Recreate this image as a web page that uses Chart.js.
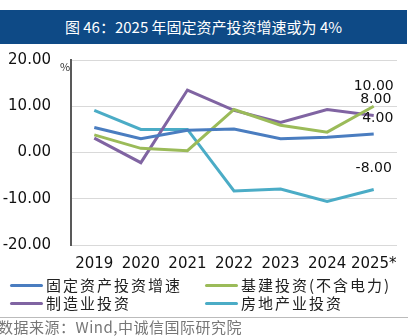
<!DOCTYPE html>
<html><head><meta charset="utf-8">
<script src="https://cdn.jsdelivr.net/npm/chart.js@4/dist/chart.umd.min.js"></script>
<style>
html,body{margin:0;padding:0;background:#fff;width:418px;height:336px;overflow:hidden;font-family:"Noto Sans CJK SC","Noto Sans",sans-serif;}
#title{position:absolute;left:0;top:10px;width:407px;height:34px;background:#0E4A86;color:#fff;font-size:15px;line-height:34px;text-align:center;}
#wrap{position:absolute;left:0;top:31px;width:418px;height:252px;}
#legend{position:absolute;left:0;top:274px;width:418px;}
.li{position:absolute;font-size:15px;line-height:18px;color:#222;white-space:nowrap;letter-spacing:2px;}
.li span{display:inline-block;width:33px;height:3px;border-radius:2px;vertical-align:middle;margin-right:3px;margin-top:-3px;}
#srcline{position:absolute;left:0;top:317px;width:408px;height:1px;background:#bbb;}
#src{position:absolute;left:-2px;top:318px;font-size:15px;color:#777;white-space:nowrap;line-height:18px;letter-spacing:0.5px;}
#pct{position:absolute;left:60px;top:58px;font-size:11px;color:#333;}
</style></head><body>
<div id="title">图 46：2025 年固定资产投资增速或为 4%</div>
<div id="wrap"><canvas id="c" width="418" height="252"></canvas></div>
<div id="pct">%</div>
<div id="legend">
 <div class="li" style="left:10px;top:2px"><span style="background:#4A7DC0"></span>固定资产投资增速</div>
 <div class="li" style="left:205px;top:2px"><span style="background:#9BBB59"></span>基建投资(不含电力)</div>
 <div class="li" style="left:10px;top:20px"><span style="background:#8064A2"></span>制造业投资</div>
 <div class="li" style="left:205px;top:20px"><span style="background:#4BACC6"></span>房地产业投资</div>
</div>
<div id="srcline"></div>
<div id="src">数据来源：Wind,中诚信国际研究院</div>
<script>
const categories = ["2019","2020","2021","2022","2023","2024","2025*"];
const fixedAsset = [5.4, 3.0, 4.8, 5.1, 3.0, 3.3, 4.0];
const infra = [3.8, 0.9, 0.4, 9.3, 5.9, 4.4, 10.0];
const manufacturing = [3.1, -2.2, 13.5, 9.1, 6.5, 9.3, 8.0];
const realEstate = [9.1, 5.0, 5.0, -8.3, -7.9, -10.6, -8.0];
const yTicks = [-20, -10, 0, 10, 20];

const lastLabels = {
  id: 'lastLabels',
  afterDatasetsDraw(chart) {
    const ctx = chart.ctx;
    ctx.save();
    ctx.font = '14px "DejaVu Sans", sans-serif';
    ctx.fillStyle = '#111';
    ctx.textAlign = 'center';
    ctx.textBaseline = 'middle';
    const offsets = [16, 20, 16, 21];
    const dx = [4, 0, 2, 0];
    chart.data.datasets.forEach((ds, i) => {
      const meta = chart.getDatasetMeta(i);
      const pt = meta.data[meta.data.length - 1];
      const v = ds.data[ds.data.length - 1];
      ctx.fillText(v.toFixed(2), pt.x + dx[i], pt.y - offsets[i]);
    });
    ctx.restore();
  }
};

function ds(label, data, color) {
  return {label, data, borderColor: color, backgroundColor: color, borderWidth: 3,
    pointRadius: 0, tension: 0, fill: false, clip: false};
}

new Chart(document.getElementById('c'), {
  type: 'line',
  data: {
    labels: categories,
    datasets: [
      ds('固定资产投资增速', fixedAsset, '#4A7DC0'),
      ds('基建投资(不含电力)', infra, '#9BBB59'),
      ds('制造业投资', manufacturing, '#8064A2'),
      ds('房地产业投资', realEstate, '#4BACC6')
    ]
  },
  options: {
    responsive: false,
    animation: false,
    events: [],
    layout: {padding: {top: 10, right: 21, left: 0, bottom: 0}},
    plugins: {legend: {display: false}, tooltip: {enabled: false}},
    scales: {
      x: {
        offset: true,
        grid: {display: false, drawTicks: false},
        border: {display: false},
        ticks: {color: '#111', font: {size: 15, family: '"DejaVu Sans", sans-serif'}, padding: 10, maxRotation: 0, autoSkip: false}
      },
      y: {
        min: -20, max: 20,
        afterFit(s) { s.width = 71; },
        afterBuildTicks(s) { s.ticks = yTicks.map(v => ({value: v})); },
        grid: {color: '#d9d9d9', lineWidth: 1, drawTicks: false},
        border: {display: true, color: '#595959', width: 2},
        ticks: {color: '#111', font: {size: 15, family: '"DejaVu Sans", sans-serif'}, padding: 20,
          callback: v => v.toFixed(2)}
      }
    }
  },
  plugins: [lastLabels]
});
</script>
</body></html>
